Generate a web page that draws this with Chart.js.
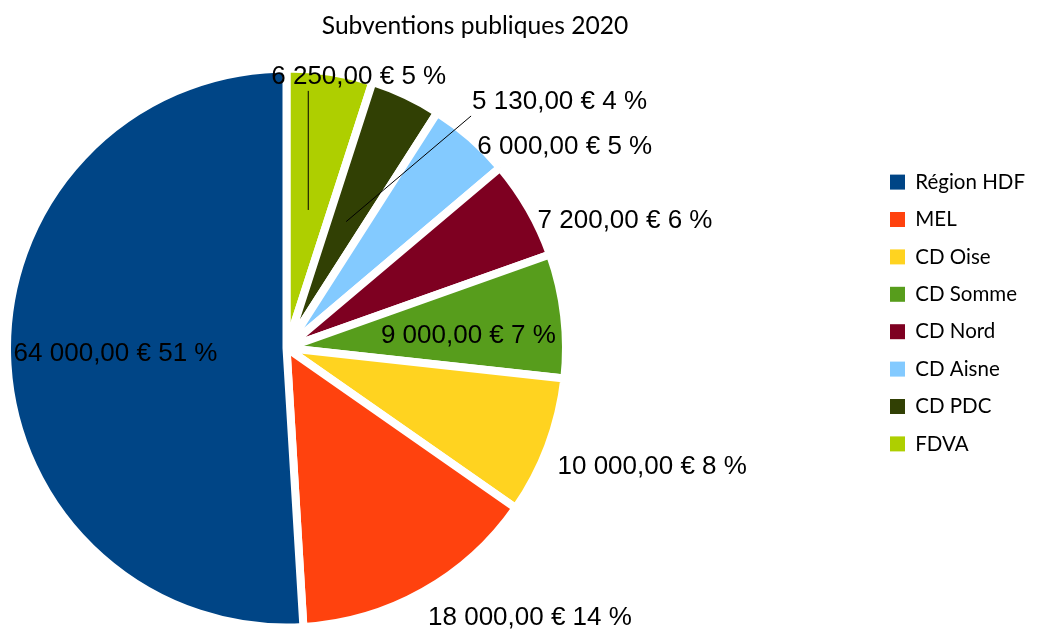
<!DOCTYPE html>
<html>
<head>
<meta charset="utf-8">
<script src="https://cdn.jsdelivr.net/npm/chart.js@4.4.0/dist/chart.umd.min.js"></script>
<style>
  html, body { margin: 0; padding: 0; background: #ffffff; overflow: hidden; }
  #wrap { width: 1057px; height: 629px; position: relative; }
</style>
</head>
<body>
<div id="wrap"><canvas id="chart"></canvas></div>
<script>
// ---- data ----
const chartTitle = 'Subventions publiques 2020';
const categories = ['Région HDF', 'MEL', 'CD Oise', 'CD Somme', 'CD Nord', 'CD Aisne', 'CD PDC', 'FDVA'];
const amounts = [64000, 18000, 10000, 9000, 7200, 6000, 5130, 6250];
const sliceColors = ['#004586', '#ff420e', '#ffd320', '#579d1c', '#7e0021', '#83caff', '#314004', '#aecf00'];

// ---- label placement (style, not data) ----
const labelPlacement = {
  'Région HDF': { mode: 'inside', r: 0.612, dy: 1 },
  'MEL':        { mode: 'outside' },
  'CD Oise':    { mode: 'outside' },
  'CD Somme':   { mode: 'inside', r: 0.655, dy: 9 },
  'CD Nord':    { mode: 'outside' },
  'CD Aisne':   { mode: 'outside' },
  'CD PDC':     { mode: 'leader', lx: 0.447, ly: -0.378, tx: 1 },
  'FDVA':       { mode: 'leader', lx: 0, ly: -0.426, tx: -37 }
};
const pieFrame = { cx: 286.5, cy: 348, radius: 279.5 };
const labelFont = '26px "Liberation Sans", Arial, sans-serif';

// ---- helpers ----
const total = amounts.reduce((a, b) => a + b, 0);
function fmtAmount(v) {
  const parts = v.toFixed(2).split('.');
  return parts[0].replace(/\B(?=(\d{3})+(?!\d))/g, ' ') + ',' + parts[1] + ' €';
}
function fmtLabel(v) { return fmtAmount(v) + ' ' + Math.round(v / total * 100) + ' %'; }

// LibreOffice draws the pie counter-clockwise from 12 o'clock: feed the data reversed
const order = categories.map((_, i) => categories.length - 1 - i);

const framePlugin = {
  id: 'pieFrame',
  afterLayout(chart) {
    const h = pieFrame.radius + 1;
    chart.chartArea = {
      left: pieFrame.cx - h, right: pieFrame.cx + h,
      top: pieFrame.cy - h, bottom: pieFrame.cy + h,
      width: 2 * h, height: 2 * h
    };
  }
};

const labelPlugin = {
  id: 'sliceLabels',
  afterDatasetsDraw(chart) {
    const ctx = chart.ctx;
    const meta = chart.getDatasetMeta(0);
    ctx.save();
    ctx.font = labelFont;
    ctx.fillStyle = '#000000';
    meta.data.forEach((arc, j) => {
      const idx = order[j];
      const p = labelPlacement[categories[idx]];
      const { x, y, startAngle, endAngle, outerRadius } =
        arc.getProps(['x', 'y', 'startAngle', 'endAngle', 'outerRadius'], true);
      const mid = (startAngle + endAngle) / 2;
      const ux = Math.cos(mid), uy = Math.sin(mid);
      const text = fmtLabel(amounts[idx]);
      ctx.textBaseline = 'middle';
      if (p.mode === 'inside') {
        ctx.textAlign = 'center';
        ctx.fillText(text, x + ux * outerRadius * p.r, y + uy * outerRadius * p.r + (p.dy || 0));
      } else if (p.mode === 'outside') {
        const d = outerRadius + 10;
        ctx.textAlign = 'left';
        ctx.fillText(text, x + ux * d, y + uy * d + 17);
      } else {
        const sx = x + ux * outerRadius * 0.5, sy = y + uy * outerRadius * 0.5;
        const ex = sx + p.lx * outerRadius, ey = sy + p.ly * outerRadius;
        ctx.strokeStyle = '#000000';
        ctx.lineWidth = 1;
        ctx.beginPath();
        ctx.moveTo(sx, sy);
        ctx.lineTo(ex, ey);
        ctx.stroke();
        ctx.textAlign = 'left';
        ctx.fillText(text, ex + p.tx, ey - 14);
      }
    });
    ctx.restore();
  }
};

const ctx = document.getElementById('chart');
new Chart(ctx, {
  type: 'pie',
  data: {
    labels: order.map(i => categories[i]),
    datasets: [{
      data: order.map(i => amounts[i]),
      backgroundColor: order.map(i => sliceColors[i]),
      borderColor: '#ffffff',
      borderWidth: 8
    }]
  },
  options: {
    responsive: true,
    maintainAspectRatio: false,
    animation: false,
    radius: pieFrame.radius,
    rotation: 0,
    layout: { padding: { left: -85, right: 22, top: 0, bottom: 3 } },
    plugins: {
      title: {
        display: true,
        text: chartTitle,
        color: '#000000',
        font: { family: 'Lato', size: 24.6, weight: 'normal' },
        padding: { top: 11, bottom: 10 }
      },
      legend: {
        position: 'right',
        align: 'center',
        reverse: true,
        labels: {
          boxWidth: 15,
          boxHeight: 15,
          padding: 16.9,
          color: '#000000',
          font: { family: 'Lato', size: 20.5 },
          generateLabels(chart) {
            const items = Chart.overrides.pie.plugins.legend.labels.generateLabels(chart);
            items.forEach(it => { it.lineWidth = 0; it.strokeStyle = it.fillStyle; });
            return items;
          }
        }
      },
      tooltip: { enabled: false }
    }
  },
  plugins: [framePlugin, labelPlugin]
});
</script>
</body>
</html>
